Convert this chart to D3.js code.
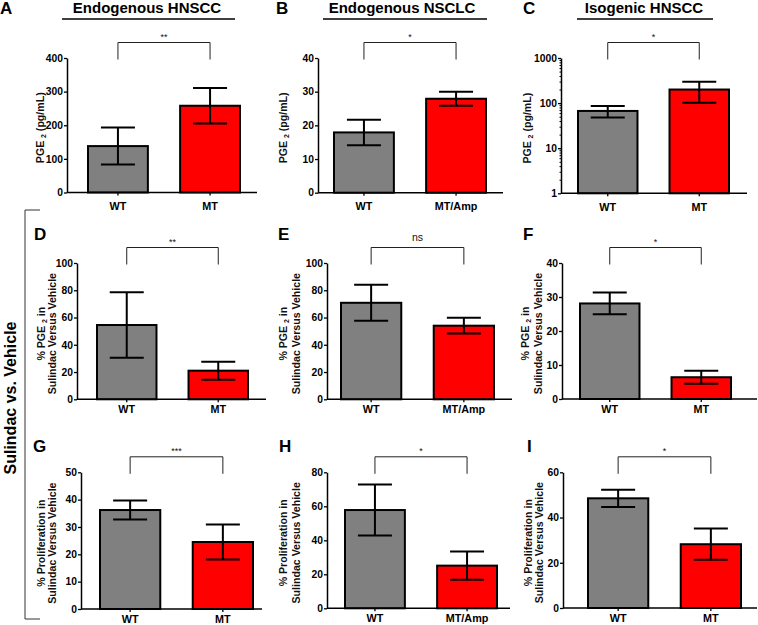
<!DOCTYPE html>
<html><head><meta charset="utf-8">
<script src="https://cdn.jsdelivr.net/npm/d3@7"></script>
<style>
body{margin:0;background:#fff}
svg{display:block;font-family:"Liberation Sans",Arial,Helvetica,sans-serif}
</style>
</head><body>
<svg id="c" width="758" height="625"></svg>
<script>
// ---------------- DATA ----------------
const catsA = ["WT", "MT"],     meanA = [138, 258],   sdA = [55, 53];
const catsB = ["WT", "MT/Amp"], meanB = [17.9, 27.9], sdB = [3.8, 2.1];
const catsC = ["WT", "MT"],     meanC = [67, 200],    sdC = [19, 98];
const catsD = ["WT", "MT"],     meanD = [54.5, 21],   sdD = [24, 6.6];
const catsE = ["WT", "MT/Amp"], meanE = [70.8, 54],   sdE = [13.2, 5.8];
const catsF = ["WT", "MT"],     meanF = [28.1, 6.4],  sdF = [3.2, 1.9];
const catsG = ["WT", "MT"],     meanG = [36.2, 24.5], sdG = [3.5, 6.4];
const catsH = ["WT", "MT/Amp"], meanH = [57.8, 25.1], sdH = [15, 8.3];
const catsI = ["WT", "MT"],     meanI = [48.5, 28.2], sdI = [3.8, 6.9];

const ticksA = [0, 100, 200, 300, 400];
const ticksB = [0, 10, 20, 30, 40];
const ticksC = [1, 10, 100, 1000];
const ticksD = [0, 20, 40, 60, 80, 100];
const ticksE = [0, 20, 40, 60, 80, 100];
const ticksF = [0, 10, 20, 30, 40];
const ticksG = [0, 10, 20, 30, 40, 50];
const ticksH = [0, 20, 40, 60, 80];
const ticksI = [0, 20, 40, 60];

const sigLabels = ["**", "*", "*", "**", "ns", "*", "***", "*", "*"];
const panelLetters = ["A", "B", "C", "D", "E", "F", "G", "H", "I"];
const columnTitles = ["Endogenous HNSCC", "Endogenous NSCLC", "Isogenic HNSCC"];
const sideLabel = "Sulindac vs. Vehicle";
const barColors = ["#808080", "#ff0000"];

// ---------------- LAYOUT ----------------
const svg = d3.select("#c");

const panels = [
  {cats: catsA, mean: meanA, sd: sdA, ticks: ticksA, log: false, x0: 67,  x1: 257, b0: 88,  b1: 240, yTop: 58,  yBot: 192.5, lab: [40],  kind: 0, lx: 0,   ly: 13.5, row: 0},
  {cats: catsB, mean: meanB, sd: sdB, ticks: ticksB, log: false, x0: 318, x1: 503, b0: 334, b1: 486, yTop: 58,  yBot: 192.7, lab: [283.3], kind: 0, lx: 276, ly: 13.5, row: 0},
  {cats: catsC, mean: meanC, sd: sdC, ticks: ticksC, log: true,  x0: 561, x1: 747, b0: 578, b1: 729, yTop: 58,  yBot: 193.3, lab: [526.7], kind: 0, lx: 523, ly: 13.5, row: 0},
  {cats: catsD, mean: meanD, sd: sdD, ticks: ticksD, log: false, x0: 77,  x1: 266, b0: 97,  b1: 248, yTop: 263, yBot: 399.3, lab: [41.5, 52], kind: 1, lx: 34,  ly: 239.5, row: 1},
  {cats: catsE, mean: meanE, sd: sdE, ticks: ticksE, log: false, x0: 327, x1: 512, b0: 341, b1: 494, yTop: 263, yBot: 399.3, lab: [283, 296], kind: 1, lx: 278, ly: 239.5, row: 1},
  {cats: catsF, mean: meanF, sd: sdF, ticks: ticksF, log: false, x0: 562, x1: 757, b0: 580, b1: 731, yTop: 263, yBot: 399,   lab: [525.5, 538], kind: 1, lx: 523, ly: 239.5, row: 1},
  {cats: catsG, mean: meanG, sd: sdG, ticks: ticksG, log: false, x0: 81,  x1: 262, b0: 100, b1: 253, yTop: 472.3, yBot: 609, lab: [41.5, 52], kind: 2, lx: 33,  ly: 451.5, row: 2},
  {cats: catsH, mean: meanH, sd: sdH, ticks: ticksH, log: false, x0: 327, x1: 510, b0: 345, b1: 497, yTop: 472.3, yBot: 608.3, lab: [283, 296], kind: 2, lx: 279, ly: 451.5, row: 2},
  {cats: catsI, mean: meanI, sd: sdI, ticks: ticksI, log: false, x0: 563, x1: 757, b0: 588, b1: 741, yTop: 472.3, yBot: 608, lab: [527.7, 539.5], kind: 2, lx: 527, ly: 451.5, row: 2}
];

const labelOffset = [17.5, 14, 14];
const FF = '"Liberation Sans", Arial, sans-serif';

panels.forEach((p, pi) => {
  const g = svg.append("g");
  const x = d3.scaleBand().domain(p.cats).range([p.b0, p.b1]).paddingInner(0.35);
  const y = p.log
    ? d3.scaleLog().domain([1, 1000]).range([p.yBot, p.yTop])
    : d3.scaleLinear().domain([0, d3.max(p.ticks)]).range([p.yBot, p.yTop]);
  const bw = x.bandwidth();
  const cx = d => x(d) + bw / 2;

  // bars
  g.selectAll("rect.bar").data(p.cats).join("rect")
    .attr("class", "bar")
    .attr("x", d => x(d))
    .attr("width", bw)
    .attr("y", (d, i) => y(p.mean[i]))
    .attr("height", (d, i) => p.yBot - y(p.mean[i]))
    .attr("fill", (d, i) => barColors[i])
    .attr("stroke", "#000")
    .attr("stroke-width", 2);

  // error bars
  const capW = 34;
  const eb = g.selectAll("g.eb").data(p.cats).join("g").attr("class", "eb")
    .attr("stroke", "#000").attr("stroke-width", 2);
  eb.append("line")
    .attr("x1", d => cx(d)).attr("x2", d => cx(d))
    .attr("y1", (d, i) => y(p.mean[i] + p.sd[i]))
    .attr("y2", (d, i) => y(p.mean[i] - p.sd[i]));
  eb.append("line")
    .attr("x1", d => cx(d) - capW / 2).attr("x2", d => cx(d) + capW / 2)
    .attr("y1", (d, i) => y(p.mean[i] + p.sd[i]))
    .attr("y2", (d, i) => y(p.mean[i] + p.sd[i]));
  eb.append("line")
    .attr("x1", d => cx(d) - capW / 2).attr("x2", d => cx(d) + capW / 2)
    .attr("y1", (d, i) => y(p.mean[i] - p.sd[i]))
    .attr("y2", (d, i) => y(p.mean[i] - p.sd[i]));

  // y axis
  let yAxis;
  if (p.log) {
    yAxis = d3.axisLeft(y).tickValues(y.ticks()).tickSize(3).tickSizeOuter(0).tickPadding(1)
      .tickFormat(d => p.ticks.includes(d) ? String(d) : "");
  } else {
    yAxis = d3.axisLeft(y).tickValues(p.ticks).tickSize(3).tickSizeOuter(0).tickPadding(1)
      .tickFormat(d3.format("d"));
  }
  const ya = g.append("g").attr("transform", `translate(${p.x0},0)`).call(yAxis);
  ya.select(".domain").attr("stroke", "#000").attr("stroke-width", 1.5);
  ya.selectAll(".tick line").attr("stroke", "#000").attr("stroke-width", 1.3);
  if (p.log) {
    ya.selectAll(".tick").filter(d => !p.ticks.includes(d)).select("line").attr("x2", -1.5).attr("stroke-width", 1);
  }
  ya.selectAll(".tick text")
    .attr("font-family", FF)
    .attr("font-size", 10.3).attr("font-weight", "bold").attr("fill", "#000");

  // x axis
  const xAxis = d3.axisBottom(x).tickSize(3).tickSizeOuter(0).tickPadding(labelOffset[p.row] - 3 - 7.5);
  const xa = g.append("g").attr("transform", `translate(0,${p.yBot})`).call(xAxis);
  xa.select(".domain").remove();
  xa.selectAll(".tick line").attr("stroke", "#000").attr("stroke-width", 1.3);
  xa.selectAll(".tick text")
    .attr("font-family", FF)
    .attr("font-size", 10.8).attr("font-weight", "bold").attr("fill", "#000");
  g.append("line").attr("x1", p.x0).attr("x2", p.x1).attr("y1", p.yBot).attr("y2", p.yBot)
    .attr("stroke", "#000").attr("stroke-width", 1.5);

  // significance bracket
  const bTop = p.yTop - 15.5, bLeg = p.yTop + 1.5;
  const xa0 = cx(p.cats[0]), xa1 = cx(p.cats[1]);
  g.append("path")
    .attr("d", `M${xa0},${bLeg}V${bTop}H${xa1}V${bLeg}`)
    .attr("fill", "none").attr("stroke", "#222").attr("stroke-width", 1);
  const sig = sigLabels[pi];
  g.append("text")
    .attr("x", (xa0 + xa1) / 2)
    .attr("y", sig === "ns" ? bTop - 6.5 : bTop - 3)
    .attr("text-anchor", "middle")
    .attr("font-size", sig === "ns" ? 10.5 : 9)
    .attr("fill", "#111")
    .text(sig);

  // panel letter
  svg.append("text").attr("x", p.lx).attr("y", p.ly)
    .attr("font-size", 17).attr("font-weight", "bold").text(panelLetters[pi]);

  // y axis title
  const yc = (p.yTop + p.yBot) / 2 + 2.5;
  const lines = p.kind === 0 ? ["pge"] : (p.kind === 1 ? ["pctpge", "sulindac"] : ["prolif", "sulindac"]);
  lines.forEach((ln, li) => {
    const t = svg.append("text")
      .attr("transform", `translate(${p.lab[li] + 3.8},${yc}) rotate(-90)`)
      .attr("text-anchor", "middle")
      .attr("font-size", 10.6).attr("font-weight", "bold").attr("fill", "#111");
    if (ln === "pge" || ln === "pctpge") {
      t.append("tspan").text(ln === "pge" ? "PGE" : "% PGE");
      t.append("tspan").attr("font-size", 7).attr("dy", 2).text("\u2009\u20092");
      t.append("tspan").attr("dy", -2).text(ln === "pge" ? " (pg/mL)" : " in");
    } else if (ln === "prolif") {
      t.text("% Proliferation in");
    } else {
      t.text("Sulindac Versus Vehicle");
    }
  });
});

// column titles with underline
const titleLayout = [
  {cx: 147, u0: 62, u1: 235},
  {cx: 402, u0: 323, u1: 487},
  {cx: 644, u0: 577, u1: 713}
];
columnTitles.forEach((t, i) => {
  const L = titleLayout[i];
  svg.append("text").attr("x", L.cx).attr("y", 13).attr("text-anchor", "middle")
    .attr("font-size", 15).attr("font-weight", "bold").text(t);
  svg.append("line").attr("x1", L.u0).attr("x2", L.u1).attr("y1", 19).attr("y2", 19)
    .attr("stroke", "#000").attr("stroke-width", 1.5);
});

// left bracket and side label
svg.append("path").attr("d", "M40,210H25V619H40")
  .attr("fill", "none").attr("stroke", "#333").attr("stroke-width", 1);
svg.append("text")
  .attr("transform", "translate(15.5,398) rotate(-90)")
  .attr("text-anchor", "middle")
  .attr("font-size", 16).attr("font-weight", "bold").text(sideLabel);
</script>
</body></html>
